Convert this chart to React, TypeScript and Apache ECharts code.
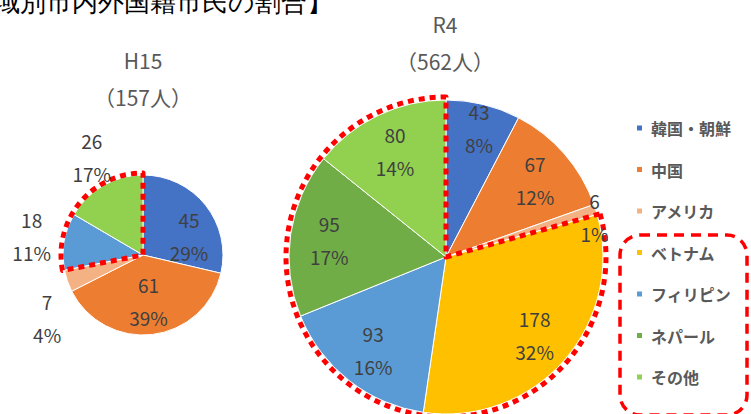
import React, { useEffect, useRef } from 'react';
import * as echarts from 'echarts';

const categories = ['韓国・朝鮮', '中国', 'アメリカ', 'ベトナム', 'フィリピン', 'ネパール', 'その他'];
const colors = ['#4472C4', '#ED7D31', '#F4B183', '#FFC000', '#5B9BD5', '#70AD47', '#92D050'];
const h15Values = [45, 61, 7, 0, 18, 0, 26];
const r4Values = [43, 67, 6, 178, 93, 95, 80];
const h15Title = ['H15', '（157人）'];
const r4Title = ['R4', '（562人）'];
const headerText = '【国・地域別市内外国籍市民の割合】';
const highlightFrom = 3; // ベトナム〜その他 are outlined
const h15OutsideLabels = ['アメリカ', 'フィリピン', 'その他'];

const FONT = '"Noto Sans CJK JP", "Noto Sans", sans-serif';
const labelColor = '#404040';
const textGray = '#595959';

const h15Nudge: Record<string, number[]> = { '韓国・朝鮮': [10, 10], 'アメリカ': [11, 26], 'その他': [5, 0] };
const r4Nudge: Record<string, number[]> = { '韓国・朝鮮': [5, -14], 'アメリカ': [36, -4] };

function sum(a: number[]) {
  return a.reduce((s, v) => s + v, 0);
}

function items(values: number[], transparent: boolean, showSet?: string[]) {
  return categories
    .map((name, i) => ({
      name,
      value: values[i],
      itemStyle: transparent ? { color: 'rgba(0,0,0,0)', borderWidth: 0 } : { color: colors[i] },
      label: showSet ? { show: showSet.indexOf(name) >= 0 } : undefined,
    }))
    .filter((d) => d.value > 0);
}

function names(values: number[]) {
  return categories.filter((_, i) => values[i] > 0);
}

const labelStyle = {
  show: true,
  position: 'inside',
  formatter: '{c}\n{d}%',
  fontSize: 19,
  lineHeight: 33,
  color: labelColor,
  fontFamily: FONT,
};

function mainPie(center: number[], r: number, values: number[]) {
  return {
    type: 'pie',
    center,
    radius: r,
    startAngle: 90,
    silent: true,
    z: 2,
    data: items(values, false),
    label: { show: false },
    labelLine: { show: false },
    itemStyle: { borderColor: '#ffffff', borderWidth: 1 },
  };
}

function outlinePie(center: number[], r: number, values: number[]) {
  return {
    type: 'pie',
    center,
    radius: r,
    startAngle: 90,
    silent: true,
    z: 3,
    label: { show: false },
    labelLine: { show: false },
    data: [
      { name: '_rest', value: sum(values.slice(0, highlightFrom)), itemStyle: { color: 'rgba(0,0,0,0)', borderWidth: 0 } },
      {
        name: '_group',
        value: sum(values.slice(highlightFrom)),
        itemStyle: { color: 'rgba(0,0,0,0)', borderColor: '#FF0000', borderWidth: 5, borderType: [6, 5] },
      },
    ],
  };
}

function labelPie(center: number[], radius: number[], values: number[], showSet: string[], nudge: Record<string, number[]>) {
  const nm = names(values);
  return {
    type: 'pie',
    center,
    radius,
    startAngle: 90,
    silent: true,
    z: 4,
    percentPrecision: 0,
    legendHoverLink: false,
    data: items(values, true, showSet),
    label: labelStyle,
    labelLine: { show: false },
    labelLayout: (p: any) => {
      const n = nudge[nm[p.dataIndex]];
      return n ? { dx: n[0], dy: n[1] } : {};
    },
  };
}

export default function App() {
  const ref = useRef<HTMLDivElement>(null);
  useEffect(() => {
    document.body.style.margin = '0';
    const chart = echarts.init(ref.current!, undefined, { renderer: 'svg' });
    const h15Center = [143, 255];
    const r4Center = [446, 257];
    const h15Inside = names(h15Values).filter((n) => h15OutsideLabels.indexOf(n) < 0);
    chart.setOption({
      animation: false,
      backgroundColor: '#ffffff',
      legend: {
        data: categories,
        orient: 'vertical',
        left: 635,
        top: 120,
        padding: 0,
        itemWidth: 7,
        itemHeight: 7,
        itemGap: 25.5,
        icon: 'rect',
        selectedMode: false,
        textStyle: { fontSize: 16, lineHeight: 16, fontWeight: 'bold', color: textGray, fontFamily: FONT, padding: [0, 0, 0, 3] },
      },
      graphic: [
        {
          type: 'text',
          x: 333,
          y: 2,
          style: { text: headerText, fontSize: 26, fill: '#000000', align: 'right', verticalAlign: 'middle', fontFamily: 'serif' },
        },
        { type: 'text', x: 143, y: 60, style: { text: h15Title[0], fontSize: 21, fill: textGray, align: 'center', verticalAlign: 'middle', fontFamily: FONT } },
        { type: 'text', x: 143, y: 97, style: { text: h15Title[1], fontSize: 21, fill: textGray, align: 'center', verticalAlign: 'middle', fontFamily: FONT } },
        { type: 'text', x: 445, y: 24, style: { text: r4Title[0], fontSize: 21, fill: textGray, align: 'center', verticalAlign: 'middle', fontFamily: FONT } },
        { type: 'text', x: 445, y: 61, style: { text: r4Title[1], fontSize: 21, fill: textGray, align: 'center', verticalAlign: 'middle', fontFamily: FONT } },
        {
          type: 'rect',
          shape: { x: 620, y: 235, width: 127, height: 180, r: 20 },
          style: { fill: 'none', stroke: '#FF0000', lineWidth: 3.5, lineDash: [10, 7] },
        },
      ],
      series: [
        mainPie(h15Center, 80, h15Values),
        mainPie(r4Center, 157, r4Values),
        outlinePie(h15Center, 82, h15Values),
        outlinePie(r4Center, 160, r4Values),
        labelPie(h15Center, [6, 80], h15Values, h15Inside, h15Nudge),
        labelPie(h15Center, [90, 130], h15Values, h15OutsideLabels, h15Nudge),
        labelPie(r4Center, [73, 157], r4Values, categories, r4Nudge),
      ],
    });
    return () => chart.dispose();
  }, []);
  return <div ref={ref} style={{ width: 751, height: 414 }} />;
}
